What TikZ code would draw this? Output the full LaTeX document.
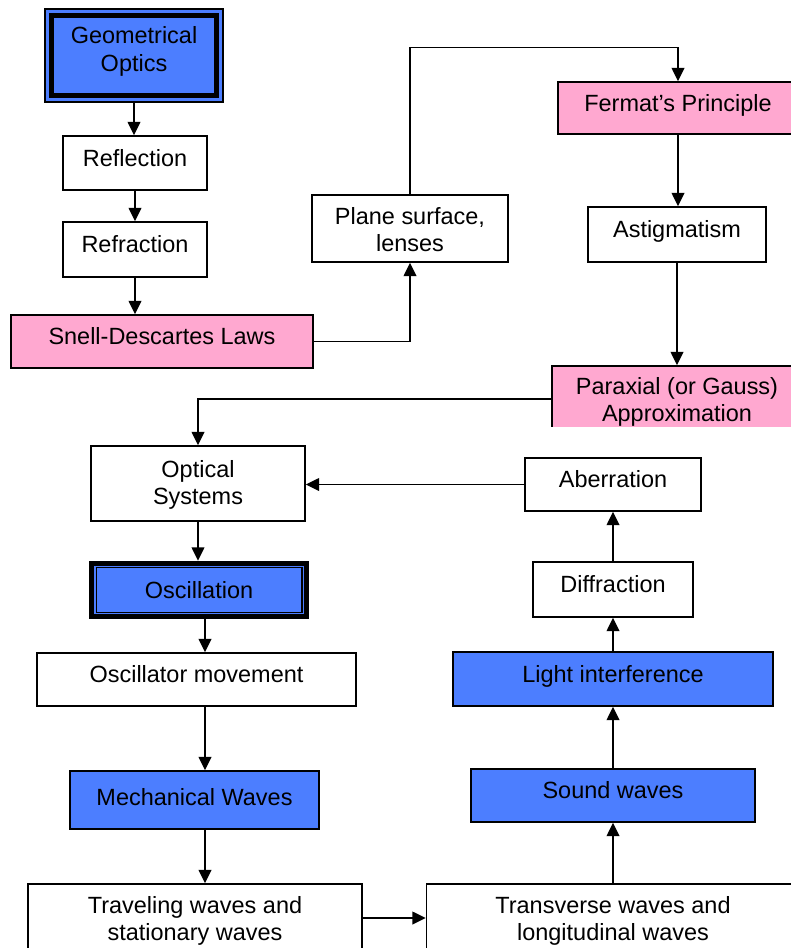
\documentclass[tikz,border=0pt]{standalone}
\usepackage{fontspec}
\setmainfont{Liberation Sans}
\usetikzlibrary{arrows.meta}
\definecolor{boxblue}{RGB}{76,126,255}
\definecolor{boxpink}{RGB}{255,168,208}
\newcommand{\twolines}[3]{\raisebox{#1}[\height][\depth]{\begin{tabular}{@{}c@{}}#2\\#3\end{tabular}}}
\begin{document}
\begin{tikzpicture}[x=0.75pt,y=-0.75pt,
  sz/.style 2 args={minimum width=#1*0.75pt, minimum height=#2*0.75pt},
  box/.style={draw=black, line width=1.1pt, fill=white, align=center, inner sep=0pt,
    font=\fontsize{17.6pt}{20.3pt}\selectfont},
  one/.style={text height=12.6pt, text depth=7.5pt},
  pinkbox/.style={box, fill=boxpink},
  bluebox/.style={box, fill=boxblue},
  thinthick/.style={box, fill=boxblue, line width=0.8pt,
    path picture={\draw[line width=3.75pt]
      ([shift={(4.9pt,4.9pt)}]path picture bounding box.south west) rectangle
      ([shift={(-4.9pt,-4.9pt)}]path picture bounding box.north east);}},
  thickthin/.style={box, fill=boxblue, line width=3.75pt,
    path picture={\draw[line width=0.8pt]
      ([shift={(3.4pt,3.4pt)}]path picture bounding box.south west) rectangle
      ([shift={(-3.4pt,-3.4pt)}]path picture bounding box.north east);}},
  arr/.style={draw=black, line width=1.1pt, -{Triangle[length=10pt,width=9.5pt]}}
]
\useasboundingbox (0,0) rectangle (790,948);

\node[thinthick, sz={178}{93}] (geo) at (134,55.5)
  {\renewcommand{\arraystretch}{1.04}\twolines{2.7pt}{Geometrical}{Optics}};
\node[box, one, sz={144}{54}] (refl) at (135,163) {Reflection};
\node[box, one, sz={144}{55}] (refr) at (135,249.5) {Refraction};
\node[pinkbox, one, sz={302}{53}] (snell) at (162,341.5) {Snell-Descartes Laws};
\node[box, sz={196}{67}] (plane) at (410,228.5) {\twolines{-3pt}{Plane surface,}{lenses}};
\node[pinkbox, one, sz={240}{52}] (fermat) at (678,108) {Fermat’s Principle};
\node[box, one, sz={178}{55}] (astig) at (677,234.5) {Astigmatism};
\begin{scope}
  \clip (540,355) rectangle (800,426);
  \node[pinkbox, sz={250}{66}] (parax) at (677,399)
    {\twolines{-2.8pt}{Paraxial (or Gauss)}{Approximation}};
\end{scope}
\node[box, sz={214}{75}] (optsys) at (198,483.5) {\twolines{-1.6pt}{Optical}{Systems}};
\node[box, one, sz={176}{53}] (aberr) at (613,484.5) {Aberration};
\node[thickthin, sz={215}{53.5}] (osc) at (199,590) {Oscillation};
\node[box, one, sz={160}{55}] (diffr) at (613,589.5) {Diffraction};
\node[box, one, sz={319}{53}] (oscmov) at (196.5,679.5) {Oscillator movement};
\node[bluebox, one, sz={320}{54}] (light) at (613,679) {Light interference};
\node[bluebox, sz={249}{58}, text height=12.6pt, text depth=5pt] (mech) at (194.5,800) {Mechanical Waves};
\node[bluebox, one, sz={284}{53}] (sound) at (613,795.5) {Sound waves};
\node[box, sz={334}{68}] (trav) at (195,918) {\twolines{-2.6pt}{Traveling waves and}{stationary waves}};
\node[box, sz={373}{68}] (trans) at (613,918) {\twolines{-2.6pt}{Transverse waves and}{longitudinal waves}};

\coordinate (col) at (205,0);

\draw[arr] (geo.south) -- (geo.south |- refl.north);
\draw[arr] (refl.south) -- (refl.south |- refr.north);
\draw[arr] (refr.south) -- (refr.south |- snell.north);
\draw[arr] (snell.east) -| (plane.south);
\draw[arr] (plane.north) -- ++(0,-147) -| (fermat.north);
\draw[arr] (fermat.south) -- (fermat.south |- astig.north);
\draw[arr] (astig.south) -- (astig.south |- parax.north);
\draw[arr] (parax.west) -| (optsys.north);
\draw[arr] (aberr.west) -- (aberr.west -| optsys.east);
\draw[arr] (optsys.south) -- (optsys.south |- osc.north);
\draw[arr] (osc.south -| col) -- (oscmov.north -| col);
\draw[arr] (oscmov.south -| col) -- (mech.north -| col);
\draw[arr] (mech.south -| col) -- (trav.north -| col);
\draw[arr] (trav) -- (trans);
\draw[arr] (trans.north) -- (trans.north |- sound.south);
\draw[arr] (sound.north) -- (sound.north |- light.south);
\draw[arr] (light.north) -- (light.north |- diffr.south);
\draw[arr] (diffr.north) -- (diffr.north |- aberr.south);
\end{tikzpicture}
\end{document}
